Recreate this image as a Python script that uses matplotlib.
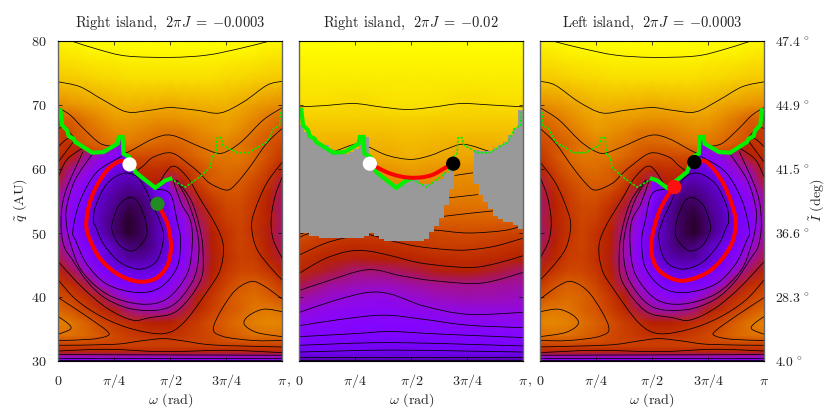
import numpy as np
import matplotlib
matplotlib.use("Agg")
import matplotlib.pyplot as plt
from matplotlib.patches import Polygon, PathPatch
from matplotlib.path import Path

plt.rcParams['font.family'] = ['cmr10', 'DejaVu Sans']
plt.rcParams['mathtext.fontset'] = 'cm'
plt.rcParams['axes.formatter.use_mathtext'] = True
plt.rcParams['axes.unicode_minus'] = False

# ---------- data (omega in units of pi, q in AU) ----------
titles = [r"Right island,  $2\pi J\;=\;{-}0.0003$", r"Right island,  $2\pi J\;=\;{-}0.02$", r"Left island,  $2\pi J\;=\;{-}0.0003$"]
xtick_labels = ["0", r"$\pi/4$", r"$\pi/2$", r"$3\pi/4$", r"$\pi$"]
q_ticks = [30, 40, 50, 60, 70, 80]
inc_labels = [r"$4.0\,^\circ$", r"$28.3\,^\circ$", r"$36.6\,^\circ$", r"$41.5\,^\circ$", r"$44.9\,^\circ$", r"$47.4\,^\circ$"]

w_cols = [0, .0625, .125, .1875, .25, .3125, .375, .4375, .5, .5625, .625, .6875, .75, .8125, .875, .9375, 1]
q_rows = [30, 30.4, 30.8, 31.2, 31.6, 32.3, 33, 34, 36, 38, 40, 42, 44, 46, 48, 50, 52, 54, 56, 58, 60, 62, 64, 66, 68, 70, 74, 77, 80]
field_main = [
 [.25]*17,
 [.33]*17,
 [.38]*17,
 [.46]*17,
 [.54]*17,
 [.62]*17,
 [.67,.67,.67,.66,.65,.64,.63,.62,.62,.63,.64,.65,.67,.68,.69,.69,.68],
 [.76,.76,.74,.7,.66,.62,.59,.58,.58,.6,.63,.66,.7,.73,.76,.76,.76],
 [.8,.77,.72,.66,.6,.56,.53,.5,.5,.57,.62,.68,.72,.76,.79,.81,.8],
 [.74,.69,.63,.56,.49,.42,.38,.37,.4,.46,.55,.63,.69,.73,.77,.78,.76],
 [.68,.63,.56,.47,.39,.32,.29,.3,.33,.4,.5,.6,.68,.73,.75,.72,.68],
 [.6,.55,.46,.36,.27,.235,.225,.24,.29,.35,.44,.54,.64,.7,.72,.68,.6],
 [.52,.45,.36,.26,.2,.18,.17,.185,.24,.32,.41,.5,.6,.65,.65,.6,.52],
 [.46,.38,.28,.2,.15,.11,.11,.135,.205,.285,.38,.49,.57,.63,.62,.53,.47],
 [.42,.33,.24,.19,.13,.08,.07,.115,.19,.28,.39,.5,.58,.64,.6,.5,.44],
 [.38,.29,.21,.14,.075,.03,.06,.12,.195,.3,.4,.5,.58,.64,.58,.49,.42],
 [.36,.26,.2,.125,.075,.03,.065,.12,.2,.31,.44,.54,.62,.65,.58,.51,.43],
 [.39,.29,.22,.14,.095,.05,.065,.13,.25,.37,.47,.57,.65,.66,.6,.5,.42],
 [.45,.45,.45,.45,.45,.45,.45,.45,.3,.43,.55,.64,.68,.68,.62,.52,.44],
 [.5,.5,.5,.5,.5,.5,.5,.5,.42,.5,.63,.71,.72,.71,.66,.58,.46],
 [.57,.57,.57,.57,.57,.57,.57,.57,.55,.6,.67,.72,.75,.74,.71,.63,.52],
 [.62,.62,.62,.62,.66,.66,.66,.66,.66,.7,.74,.77,.77,.78,.74,.68,.6],
 [.66,.69,.7,.74,.77,.78,.76,.74,.73,.74,.77,.79,.8,.77,.73,.69,.65],
 [.67,.68,.74,.78,.81,.82,.8,.78,.77,.78,.81,.83,.84,.81,.77,.73,.7],
 [.72,.73,.78,.82,.85,.85,.84,.83,.83,.84,.85,.85,.86,.84,.81,.77,.73],
 [.82,.83,.85,.86,.88,.885,.88,.875,.87,.875,.88,.885,.885,.87,.85,.83,.82],
 [.92,.925,.93,.94,.945,.95,.95,.95,.95,.95,.95,.95,.945,.94,.93,.925,.92],
 [.955,.96,.965,.97,.975,.98,.98,.98,.98,.98,.98,.98,.975,.97,.965,.96,.955],
 [.985,.99,1,1,1,1,1,1,1,1,1,1,1,1,1,.99,.985],
]
q_island = [50, 52, 54, 56, 58, 60, 62, 64, 66, 70]
w_island = w_cols[:9]
field_island = [
 [.38,.29,.21,.14,.075,.03,.06,.12,.195],
 [.36,.26,.2,.125,.075,.03,.065,.12,.2],
 [.39,.29,.22,.14,.095,.05,.065,.13,.23],
 [.40,.31,.24,.15,.11,.08,.09,.18,.27],
 [.47,.34,.29,.2,.14,.12,.13,.2,.3],
 [.5,.4,.34,.27,.19,.15,.17,.2,.3],
 [.55,.5,.4,.33,.28,.22,.25,.3,.3],
 [.6,.56,.5,.45,.35,.3,.3,.3,.3],
 [.62,.6,.55,.5,.4,.35,.3,.3,.3],
 [.65,.62,.6,.55,.45,.4,.3,.3,.3],
]

w_cols2 = [0, .125, .25, .375, .5, .625, .75, .875, 1]
q_rows2 = [30, 30.7, 31.5, 32.6, 34, 36, 38, 40, 42, 44, 46, 48, 50, 52, 54, 56, 58, 60, 62, 64, 66, 68, 70, 74, 80]
field_mid = [
 [.12]*9,
 [.16]*9,
 [.2,.2,.2,.195,.195,.2,.2,.2,.2],
 [.235,.23,.225,.22,.22,.225,.23,.235,.235],
 [.265,.255,.25,.245,.25,.255,.26,.265,.27],
 [.3,.285,.275,.27,.27,.285,.295,.3,.3],
 [.34,.31,.3,.295,.305,.325,.33,.33,.335],
 [.395,.355,.325,.32,.345,.37,.38,.375,.36],
 [.455,.4,.375,.37,.39,.41,.41,.4,.39],
 [.53,.47,.42,.425,.45,.49,.5,.47,.425],
 [.58,.515,.49,.5,.525,.55,.565,.54,.5],
 [.63,.58,.55,.565,.59,.615,.62,.6,.565],
 [.68,.63,.62,.62,.63,.66,.67,.655,.625],
 [.72,.72,.72,.72,.72,.72,.72,.72,.72],
 [.76,.76,.76,.76,.76,.76,.76,.76,.76],
 [.79,.79,.79,.79,.79,.79,.79,.79,.79],
 [.81,.81,.81,.81,.81,.81,.81,.81,.81],
 [.83,.83,.83,.83,.85,.83,.83,.83,.83],
 [.87,.87,.875,.87,.885,.87,.865,.87,.87],
 [.885,.885,.88,.89,.9,.89,.88,.885,.885],
 [.91,.91,.91,.91,.915,.91,.91,.91,.91],
 [.93,.93,.93,.93,.935,.93,.93,.93,.93],
 [.95,.95,.945,.955,.96,.955,.945,.95,.95],
 [.97,.97,.97,.97,.97,.97,.97,.97,.97],
 [1,1,1,1,1,1,1,1,1],
]

# separatrix (thick and thin part)
green_thick = [(.009,69.18),(.017,66.83),(.039,66.05),(.047,65.11),(.068,64.74),(.076,64.22),(.151,62.55),(.202,62.65),(.265,63.96),(.27,65.0),(.287,65.0),(.291,62.39),(.318,61.87),(.344,59.52),(.366,58.89),(.433,57.06),(.478,58.21),(.5,58.47)]
green_thin = [(.5,58.47),(.567,57.16),(.634,58.84),(.679,60.30),(.686,61.87),(.704,62.39),(.709,64.90),(.727,64.90),(.735,63.70),(.798,62.55),(.849,62.55),(.932,64.22),(.961,66.31),(.988,66.83),(.991,68.9)]

# red trajectories
red_1 = [(.318,60.72),(.276,61.24),(.217,59.78),(.165,56.91),(.135,54.03),(.125,51.0),(.143,48.81),(.187,45.99),(.262,43.64),(.352,42.43),(.433,42.85),(.486,44.89),(.503,47.76),(.493,50.69),(.478,52.26),(.443,54.56)]
red_2 = [(.315,60.83),(.408,59.26),(.498,58.63),(.587,59.0),(.662,60.41),(.687,60.83)]
red_3 = [(.689,61.09),(.744,61.09),(.811,58.21),(.856,54.56),(.874,51.42),(.848,47.76),(.759,44.11),(.640,42.54),(.551,43.58),(.506,45.67),(.498,48.81),(.528,52.99),(.566,55.60),(.600,57.17)]

dots_1 = [(.318,60.72,'white'),(.443,54.56,'#228B22')]
dots_2 = [(.315,60.83,'white'),(.687,60.83,'black')]
dots_3 = [(.689,61.09,'black'),(.600,57.17,'#FF1010')]

# contours of the left/right panels (written for the right-island panel)
ct_a = [(.068,79.89),(.187,78.59),(.306,77.65),(.500,77.44),(.664,77.8),(.813,78.85),(.932,79.89)]
ct_b = [(0,73.62),(.098,72.84),(.202,70.75),(.306,68.92),(.410,69.18),(.500,69.6),(.619,69.18),(.723,68.76),(.827,70.49),(.932,73.1),(1,73.7)]
ct_c1 = [(0,69.6),(.054,68.4),(.113,66.3),(.187,64.0),(.25,63.5)]
ct_c2 = [(.296,62.5),(.321,62.8),(.425,64.74),(.507,65.26),(.632,63.48),(.714,62.45),(.766,63.0),(.826,64.53),(.915,67.66),(1,69.6)]
ct_d1 = [(0,66.36),(.03,66.4),(.068,65.0)]
ct_d2 = [(.345,59.6),(.38,60.5),(.425,61.87),(.507,62.49),(.590,60.56),(.632,59.3),(.677,57.77),(.752,56.7),(.796,57.77),(.856,60.36),(.93,64.0),(1,66.36)]
ct_f = [(0,63.5),(.045,64.8),(.08,64.2)]
ct_y1 = [(.437,57.1),(.507,60.4),(.575,58.73),(.632,55.4),(.707,51.0),(.737,47.9),(.722,44.2),(.669,41.1),(.560,36.0),(.470,34.28),(.33,35.0),(.2,36.8),(.082,39.5),(0,42.66)]
ct_y2 = [(1,42.66),(.945,44.7),(.885,47.6),(.863,51.0),(.878,53.6),(.930,57.77),(1,61.1)]
ct_y3 = [(0,61.1),(.03,62.5),(.068,64.3)]
ct_x1 = [(.53,58.2),(.593,55.07),(.631,50.9),(.646,47),(.634,42.5),(.53,37.83),(.41,36.79),(.33,36.4),(.22,38.2),(.11,41.4),(0,45.5)]
ct_x2 = [(1,46.0),(.96,48.9),(.95,52.0),(.967,55.67),(1,58.8)]
ct_x3 = [(0,58.8),(.037,61.4),(.097,63.0),(.12,63.2)]
ct_r5 = [(.11,62.7),(.03,56.25),(.012,51.6),(.025,48),(.06,46),(.13,42.4),(.22,39.6),(.35,38.0),(.5,38.5),(.6,42.5),(.628,47),(.615,51),(.575,55.2),(.525,58.3)]
ct_r4 = [(.155,62.5),(.075,58.3),(.037,54.0),(.037,51.2),(.055,48.3),(.104,44.1),(.217,40.45),(.365,38.9),(.484,39.7),(.575,43.6),(.598,48.3),(.59,51.94),(.55,54.55),(.513,58.2)]
ct_r3 = [(.283,62),(.172,59.52),(.098,55.07),(.065,50.37),(.078,48.8),(.127,45.15),(.217,42.0),(.351,40.7),(.455,41.49),(.530,44.63),(.546,48.8),(.530,51.94),(.50,56.1),(.433,56.9)]
ct_r2 = [(.299,59.36),(.217,57.69),(.165,54.03),(.158,51.68),(.165,51.16),(.202,48.28),(.276,45.41),(.366,44.36),(.440,45.67),(.470,49.33),(.452,51.94),(.425,54.03),(.366,58.2),(.299,59.36)]
ct_r1 = [(.314,55.49),(.270,54.29),(.244,51.94),(.240,50.37),(.276,48.0),(.336,47.24),(.392,49.33),(.392,51.4),(.380,52.98),(.351,55.07),(.314,55.49)]
ct_lobe_r = [(1,39.66),(.917,41.75),(.856,42.4),(.775,40.45),(.694,35.48),(.730,33.9),(.872,33.2),(1,33.2)]
ct_lobe_l = [(0,39.9),(.113,37.31),(.217,34.7),(.217,33.9),(.143,33.39),(0,33.2)]
ct_in_r = [(1,37.7),(.917,38.1),(.849,37.05),(.83,35.74),(.887,34.44),(1,33.8)]
ct_in_l = [(0,36.95),(.047,35.74),(.054,34.96),(0,34.18)]
ct_b1 = [(0,32.45),(.247,32.6),(.366,33.13),(.470,33.5),(.560,33.13),(.694,32.5),(1,32.19)]
ct_b2 = [(0,31.56),(.217,31.83),(.470,31.46),(.753,31.67),(1,31.3)]
ct_b3 = [(0,31.0),(1,30.9)]
ct_b4 = [(0,30.5),(1,30.5)]
ct_b5 = [(0,30.1),(1,30.1)]
contours_side = [ct_a,ct_b,ct_c1,ct_c2,ct_d1,ct_d2,ct_f,ct_y1,ct_y2,ct_y3,ct_x1,ct_x2,ct_x3,ct_r5,ct_r4,ct_r3,ct_r2,ct_r1,
                 ct_lobe_r,ct_lobe_l,ct_in_r,ct_in_l,ct_b1,ct_b2,ct_b3,ct_b4,ct_b5]

# contours of the middle panel
m_t1 = [(0,69.7),(.109,69.9),(.244,70.23),(.363,69.7),(.483,69.3),(.602,69.7),(.722,70.23),(.856,70.0),(1,69.7)]
m_t2 = [(.161,62.8),(.258,63.96),(.306,63.5),(.393,62.13),(.498,61.5),(.587,62.13),(.662,63.18),(.737,63.86),(.856,62.65)]
m_w1 = [(.695,59.0),(.774,59.4)]
m_w2 = [(.670,55.5),(.797,56.0)]
m_w3 = [(.643,52.6),(.767,53.1),(.879,53.5)]
m_b = [(0,49.3),(.052,50.0),(.2,51),(.45,50.5),(.587,50.5),(.752,50.0),(.916,50.4),(1,51.2)]
m_c = [(0,46.56),(.109,48.3),(.199,49.2),(.303,49.75),(.408,48.8),(.528,47.9),(.662,47.4),(.752,47.35),(.871,47.92),(1,49.2)]
m_d = [(0,43.7),(.109,45.9),(.214,47.1),(.303,47.2),(.408,46.46),(.528,45.4),(.662,44.8),(.782,44.63),(.886,45.3),(1,46.46)]
m_e = [(0,41.0),(.109,42.3),(.303,44.26),(.453,43.32),(.602,42.54),(.812,42.17),(1,43.85)]
m_f = [(0,37.58),(.153,39.4),(.303,40.7),(.408,40.45),(.556,38.6),(.752,37.3),(1,37.6)]
m_g = [(0,35.5),(.184,36.5),(.378,37.16),(.558,36.5),(.752,35.6),(1,35.2)]
m_h = [(0,33.8),(.259,34.3),(.408,34.6),(.632,34.2),(1,33.66)]
m_i = [(0,32.45),(.408,32.87),(1,32.35)]
m_j = [(0,31.4),(.408,31.7),(1,31.4)]
m_k = [(0,30.68),(1,30.68)]
m_l = [(0,30.1),(1,30.1)]
contours_mid = [m_t1,m_t2,m_w1,m_w2,m_w3,m_b,m_c,m_d,m_e,m_f,m_g,m_h,m_i,m_j,m_k,m_l]

# undefined (grey) cells of the middle panel: 45 columns, upper and lower q of the cell block
grey_edges = [i/45 for i in range(46)]
grey_top = [66.8,65.8,65.0,64.2,63.9,63.7,63.2,62.6,62.4,62.4,62.6,63.2,65.0,65.0,59.8,59.3,59.0,58.0,57.7,57.7,57.7,58.3,58.5,58.5,57.7,57.7,57.7,58.2,58.5,59.3,60.0,
            49,49,49,49,63.0,62.8,62.8,62.8,63.3,63.7,64.2,65.3,66.4,69.2]
grey_bot = [50.0,50.0,49.6,49.6,49.2,49.2,49.2,49.2,49.2,49.2,49.2,49.2,49.2,49.6,50.0,49.6,49.0,48.8,48.8,48.8,48.8,48.8,48.8,48.8,48.8,49.1,50.1,51.1,52.4,54.3,56.9,
            49,49,49,49,57.7,55.9,54.8,53.8,52.7,52.2,51.7,51.7,51.2,50.6]

# ---------- drawing ----------
W, H = 830, 415
fig = plt.figure(figsize=(W/100, H/100), dpi=100)
lefts = [58.3, 299.3, 540.0]
axes = [fig.add_axes([l/W, (H-361)/H, 224/W, 320/H]) for l in lefts]
cmap = plt.get_cmap('gnuplot')
kw = dict(cmap=cmap, vmin=0, vmax=1, shading='gouraud')

def xs(p, mirror):
    w = np.array([a[0] for a in p], float)
    return (1-w)*np.pi if mirror else w*np.pi

def ys(p):
    return [a[1] for a in p]

def curve(ax, p, mirror=False, **k):
    # draws a smooth Bezier path through the read points
    P = np.column_stack([xs(p, mirror), ys(p)])
    if len(P) < 3:
        ax.plot(P[:, 0], P[:, 1], **k)
        return
    verts = [P[0]]; codes = [Path.MOVETO]
    for i in range(len(P)-1):
        p0 = P[i-1] if i > 0 else P[i]
        p3 = P[i+2] if i+2 < len(P) else P[i+1]
        if i == 0 and np.allclose(P[0], P[-1]):
            p0 = P[-2]
        if i+2 == len(P) and np.allclose(P[0], P[-1]):
            p3 = P[1]
        verts += [P[i]+(P[i+1]-p0)/6, P[i+1]-(p3-P[i])/6, P[i+1]]
        codes += [Path.CURVE4]*3
    ax.add_patch(PathPatch(Path(verts, codes), fill=False, capstyle='round', **k))

def side_field(ax, mirror):
    wc = np.array(w_cols); wi = np.array(w_island)
    fm = np.array(field_main); fi = np.array(field_island)
    X = (1-wc)*np.pi if mirror else wc*np.pi
    ax.pcolormesh(X, q_rows, fm, zorder=1, **kw)
    Xi = (1-wi)*np.pi if mirror else wi*np.pi
    m = ax.pcolormesh(Xi, q_island, fi, zorder=1.5, **kw)
    poly = [(0, 69.18)] + green_thick + [(.5, 50), (0, 50)]
    verts = np.column_stack([xs(poly, mirror), ys(poly)])
    m.set_clip_path(Polygon(verts, closed=True, transform=ax.transData))
    for c in contours_side:
        curve(ax, c, mirror, color='k', lw=0.55, zorder=2)

side_field(axes[0], False)
side_field(axes[2], True)

ax = axes[1]
ax.pcolormesh(np.array(w_cols2)*np.pi, q_rows2, np.array(field_mid), zorder=1, **kw)
for c in contours_mid:
    curve(ax, c, False, color='k', lw=0.55, zorder=2)
ge = np.array(grey_edges)*np.pi
gt = np.array(grey_top); gb = np.array(grey_bot)
ax.bar(ge[:-1], gt-gb, bottom=gb, width=np.diff(ge), align='edge', color='#999999', lw=0, zorder=3)

GREEN = '#00F000'
for ax, mirror, red, dots in zip(axes, [False, False, True], [red_1, red_2, red_3], [dots_1, dots_2, dots_3]):
    ax.plot(xs(green_thick, mirror), ys(green_thick), color=GREEN, lw=3.0, solid_joinstyle='miter', zorder=4)
    ax.plot(xs(green_thin, mirror), ys(green_thin), color=GREEN, lw=1.1, ls=(0, (1.6, 1.0)), zorder=4)
    curve(ax, red, False, color='#FF0000', lw=2.9, zorder=5)
    ax.scatter([d[0]*np.pi for d in dots], [d[1] for d in dots], s=105, c=[d[2] for d in dots], lw=0, zorder=6)

TXT = '#222222'
for i, ax in enumerate(axes):
    ax.set_xlim(0, np.pi); ax.set_ylim(30, 80)
    ax.set_xticks([0, np.pi/4, np.pi/2, 3*np.pi/4, np.pi])
    ax.set_xticklabels(xtick_labels, va='baseline')
    ax.set_yticks(q_ticks)
    ax.tick_params(direction='in', length=2.6, width=0.5, top=True, right=True, bottom=True, left=True,
                   labelsize=10.2, labelcolor=TXT)
    ax.tick_params(axis='x', pad=17)
    ax.tick_params(axis='y', pad=8.5)
    ax.set_title(titles[i], fontsize=10.4, pad=10, color=TXT)
    ax.set_xlabel(r"$\omega$ (rad)", fontsize=10.2, labelpad=1, color=TXT)
    for s in ('top', 'bottom'):
        ax.spines[s].set_color('k'); ax.spines[s].set_linewidth(0.8)
    for s in ('left', 'right'):
        ax.spines[s].set_color('#666666'); ax.spines[s].set_linewidth(1.0)
    for s in ax.spines.values():
        s.set_zorder(8)
    if i != 0:
        ax.set_yticklabels([])
        ax.annotate(',', xy=(0, 0), xycoords='axes fraction', xytext=(-7.5, -17), textcoords='offset points',
                    ha='center', va='baseline', fontsize=10.2, color=TXT)
r = axes[2].twinx()
r.set_ylim(30, 80)
r.set_yticks(q_ticks)
r.set_yticklabels(inc_labels)
r.tick_params(direction='in', length=0, labelsize=9.9, pad=8, labelcolor=TXT)
for s in r.spines.values():
    s.set_visible(False)
fig.text(20/W, 1-200/H, r"$\tilde{q}$ (AU)", rotation=90, ha='center', va='center', fontsize=10.2, color=TXT)
fig.text(817/W, 1-200/H, r"$\tilde{I}$ (deg)", rotation=90, ha='center', va='center', fontsize=10.2, color=TXT)

fig.savefig('out.png', dpi=100)
